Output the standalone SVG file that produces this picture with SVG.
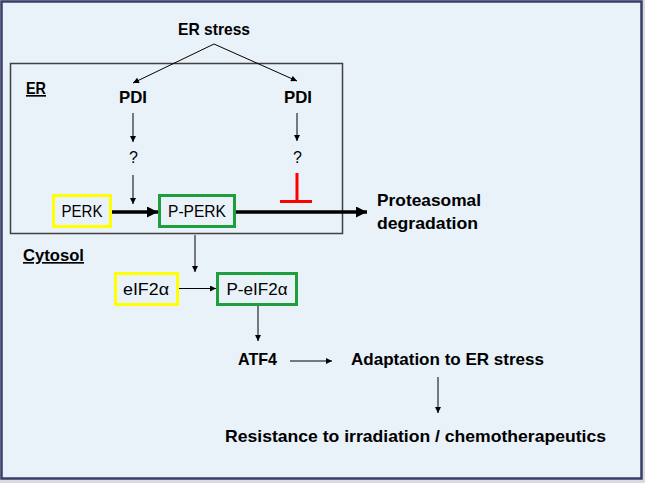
<svg xmlns="http://www.w3.org/2000/svg" width="645" height="483" viewBox="0 0 645 483">
  <defs>
    <style>
      .lbl { font-family: "Liberation Sans", Arial, sans-serif; fill: #000; }
      .b { font-weight: bold; font-size: 16.5px; }
      .r { font-weight: normal; font-size: 16px; }
      .thin { stroke: #000; stroke-width: 1; fill: none; }
      .thick { stroke: #000; stroke-width: 3.5; fill: none; }
      .ybox { fill: #e9f1f9; stroke: #ffff00; stroke-width: 3; }
      .gbox { fill: #e9f1f9; stroke: #1e9e3c; stroke-width: 3; }
    </style>
    <marker id="ah" viewBox="0 0 10 10" refX="10" refY="5" markerWidth="7" markerHeight="6" markerUnits="userSpaceOnUse" orient="auto">
      <path d="M0,0 L10,5 L0,10 z" fill="#000"/>
    </marker>
    <marker id="ahb" viewBox="0 0 10 10" refX="10" refY="5" markerWidth="11" markerHeight="11" markerUnits="userSpaceOnUse" orient="auto">
      <path d="M0,0 L10,5 L0,10 z" fill="#000"/>
    </marker>
  </defs>

  <rect x="0" y="0" width="645" height="483" fill="#d9dbe3"/>
  <rect x="1.5" y="1.5" width="640" height="477" fill="#e9f1f9" stroke="#3a3e66" stroke-width="2.5"/>

  <g id="er-compartment">
    <rect x="10.5" y="63.5" width="332" height="170" fill="none" stroke="#404040" stroke-width="1.5"/>
    <text class="lbl b" x="26" y="94" textLength="20" lengthAdjust="spacingAndGlyphs" text-decoration="underline">ER</text>
  </g>
  <g id="cytosol-label">
    <text class="lbl b" x="23" y="261" textLength="61" lengthAdjust="spacingAndGlyphs" text-decoration="underline">Cytosol</text>
  </g>

  <g id="er-stress"><text class="lbl b" x="214" y="35" text-anchor="middle" textLength="72" lengthAdjust="spacingAndGlyphs">ER stress</text></g>
  <g id="pdi-left"><text class="lbl b" x="133" y="103" text-anchor="middle" textLength="28" lengthAdjust="spacingAndGlyphs">PDI</text></g>
  <g id="pdi-right"><text class="lbl b" x="298" y="103" text-anchor="middle" textLength="28" lengthAdjust="spacingAndGlyphs">PDI</text></g>
  <g id="q-left"><text class="lbl r" x="133.5" y="163" text-anchor="middle">?</text></g>
  <g id="q-right"><text class="lbl r" x="297.5" y="163" text-anchor="middle">?</text></g>

  <g id="perk">
    <rect class="ybox" x="53.5" y="195.5" width="57" height="31"/>
    <text class="lbl r" x="82" y="217" text-anchor="middle" textLength="41" lengthAdjust="spacingAndGlyphs">PERK</text>
  </g>
  <g id="p-perk">
    <rect class="gbox" x="159.5" y="195.5" width="75" height="31"/>
    <text class="lbl r" x="197" y="217" text-anchor="middle" textLength="58" lengthAdjust="spacingAndGlyphs">P-PERK</text>
  </g>
  <g id="proteasomal">
    <text class="lbl b" x="377" y="206" textLength="104" lengthAdjust="spacingAndGlyphs">Proteasomal</text>
    <text class="lbl b" x="377" y="229" textLength="101" lengthAdjust="spacingAndGlyphs">degradation</text>
  </g>
  <g id="eif2a">
    <rect class="ybox" x="115.5" y="273.5" width="62" height="31"/>
    <text class="lbl r" x="146" y="295" text-anchor="middle" textLength="46" lengthAdjust="spacingAndGlyphs">eIF2α</text>
  </g>
  <g id="p-eif2a">
    <rect class="gbox" x="217.5" y="273.5" width="79" height="31"/>
    <text class="lbl r" x="257" y="295" text-anchor="middle" textLength="61" lengthAdjust="spacingAndGlyphs">P-eIF2α</text>
  </g>
  <g id="atf4"><text class="lbl b" x="238" y="365" textLength="39" lengthAdjust="spacingAndGlyphs">ATF4</text></g>
  <g id="adaptation"><text class="lbl b" x="351" y="365" textLength="193" lengthAdjust="spacingAndGlyphs">Adaptation to ER stress</text></g>
  <g id="resistance"><text class="lbl b" x="225" y="442" textLength="381" lengthAdjust="spacingAndGlyphs">Resistance to irradiation / chemotherapeutics</text></g>

  <g id="connectors">
    <line class="thin" x1="214" y1="44" x2="133" y2="83" marker-end="url(#ah)"/>
    <line class="thin" x1="214" y1="44" x2="297" y2="81" marker-end="url(#ah)"/>
    <line class="thin" x1="133" y1="113" x2="133" y2="142" marker-end="url(#ah)"/>
    <line class="thin" x1="133" y1="175" x2="133" y2="204" marker-end="url(#ah)"/>
    <line class="thin" x1="297" y1="113" x2="297" y2="141" marker-end="url(#ah)"/>
    <line x1="297" y1="173" x2="297" y2="201" stroke="#ff0000" stroke-width="3"/>
    <line x1="280" y1="201.5" x2="312" y2="201.5" stroke="#ff0000" stroke-width="3"/>
    <line class="thick" x1="112" y1="212" x2="158" y2="212" marker-end="url(#ahb)"/>
    <line class="thick" x1="236" y1="212" x2="367" y2="212" marker-end="url(#ahb)"/>
    <line class="thin" x1="195" y1="235" x2="195" y2="272" marker-end="url(#ah)"/>
    <line class="thin" x1="179" y1="288.5" x2="216" y2="288.5" marker-end="url(#ah)"/>
    <line class="thin" x1="258" y1="306" x2="258" y2="341" marker-end="url(#ah)"/>
    <line class="thin" x1="290" y1="361" x2="332" y2="361" marker-end="url(#ah)"/>
    <line class="thin" x1="438" y1="377" x2="438" y2="413" marker-end="url(#ah)"/>
  </g>
</svg>
